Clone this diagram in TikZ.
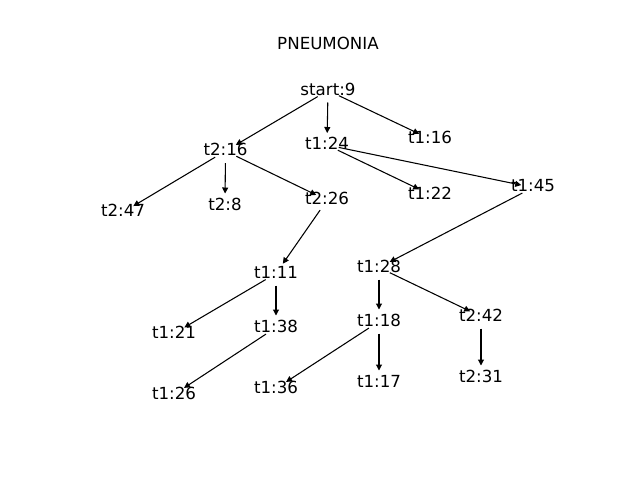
\documentclass[tikz,border=0pt]{standalone}
\usepackage{fontspec}
\setmainfont{DejaVu Sans}
\usetikzlibrary{arrows.meta}
\begin{document}
\begin{tikzpicture}[x=0.75pt,y=-0.75pt,
  v/.style={circle,minimum size=18pt,inner sep=0pt,outer sep=0pt},
  lbl/.style={inner sep=0pt,font=\fontsize{12.5}{15}\selectfont},
  edge/.style={-{Triangle[length=4.5pt,width=4.5pt]},line width=0.8pt}]
\useasboundingbox (0,0) rectangle (640,480);
\node[lbl] (title) at (328,43) {PNEUMONIA};
% vertices (matplotlib centres)
\node[v] (s)   at (328,90.5) {};
\node[v] (a)   at (225.5,151) {};
\node[v] (b)   at (327,145) {};
\node[v] (c)   at (430,139) {};
\node[v] (d)   at (123,212.2) {};
\node[v] (e)   at (225,205.5) {};
\node[v] (f)   at (327,200.2) {};
\node[v] (g)   at (430,194.5) {};
\node[v] (h)   at (533,187.5) {};
\node[v] (i)   at (276,273.5) {};
\node[v] (j)   at (379,267.5) {};
\node[v] (k)   at (174,333.5) {};
\node[v] (l)   at (276,327.5) {};
\node[v] (m)   at (379,321.5) {};
\node[v] (n)   at (481,316.5) {};
\node[v] (o)   at (174,394.5) {};
\node[v] (p)   at (276,388.5) {};
\node[v] (q)   at (379,382.5) {};
\node[v] (r)   at (481,377.5) {};
% labels
\foreach \id/\t in {s/start:9,a/t2:16,b/t1:24,c/t1:16,d/t2:47,e/t2:8,f/t2:26,g/t1:22,h/t1:45,i/t1:11,j/t1:28,k/t1:21,l/t1:38,m/t1:18,n/t2:42,o/t1:26,p/t1:36,q/t1:17,r/t2:31}
  \node[lbl] (\id-t) at ([yshift=1.1pt]\id.center) {\t};
% edges
\foreach \u/\w in {s/a,s/b,s/c,a/d,a/e,a/f,b/g,b/h,f/i,h/j,i/k,i/l,l/o,j/m,j/n,m/p,m/q,n/r}
  \draw[edge] (\u) -- (\w);
\end{tikzpicture}
\end{document}
